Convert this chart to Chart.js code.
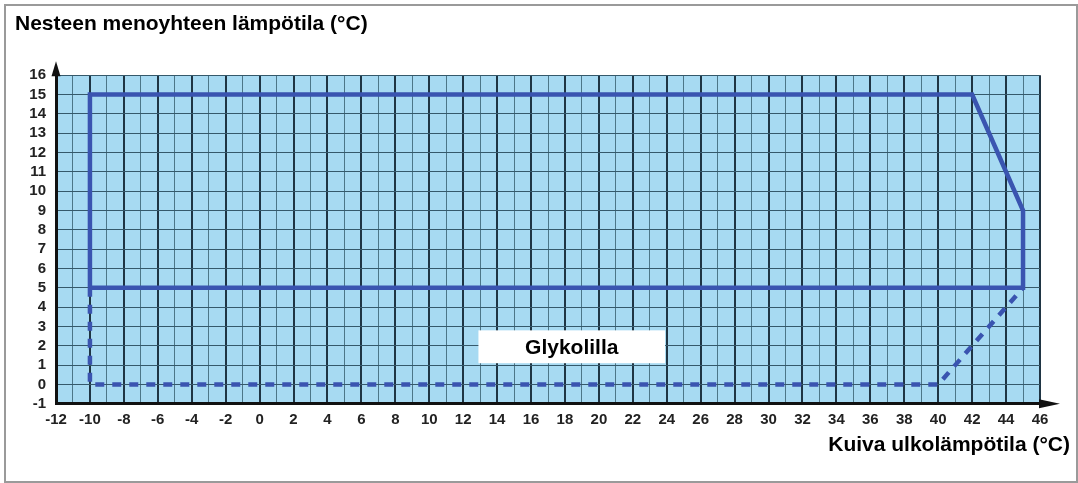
<!DOCTYPE html>
<html lang="fi">
<head>
<meta charset="utf-8">
<title>Käyttöalue</title>
<script src="https://cdn.jsdelivr.net/npm/chart.js@4/dist/chart.umd.min.js"></script>
<style>
  html, body { margin: 0; padding: 0; background: #fff; }
  canvas { display: block; }
</style>
</head>
<body>
<canvas id="rangeChart" width="1078" height="483"></canvas>
<script>
// 軸範囲・データ（°C）
const xRange = [-12, 46];
const yRange = [-1, 16];

// 実線：運転範囲の外枠
const envelopeX = [-10, -10, 42, 45, 45, -10];
const envelopeY = [5, 15, 15, 9, 5, 5];

// 破線：グリコール使用時の拡張範囲
const glycolX = [-10, -10, 40, 45];
const glycolY = [5, 0, 0, 5];

const titleY = 'Nesteen menoyhteen lämpötila (°C)';
const titleX = 'Kuiva ulkolämpötila (°C)';
const glycolLabel = 'Glykolilla';

const lineBlue = '#3a54b0';
const plotBlue = '#a7daf2';
const font = "'Liberation Sans', Arial, sans-serif";

const toPoints = (xs, ys) => xs.map((x, i) => ({ x, y: ys[i] }));

/* ==================================================
  背景・枠・ラベル・矢印の描画プラグイン
================================================== */
const decorPlugin = {
  id: 'decor',
  beforeDraw: (chart) => {
    const { ctx, chartArea: a } = chart;
    ctx.save();
    ctx.fillStyle = '#fff';
    ctx.fillRect(0, 0, chart.width, chart.height);
    // 外枠
    ctx.strokeStyle = '#9a9a9a';
    ctx.lineWidth = 2;
    ctx.strokeRect(5, 5, chart.width - 6, chart.height - 6);
    // プロット領域の水色
    ctx.fillStyle = plotBlue;
    ctx.fillRect(a.left, a.top, a.right - a.left, a.bottom - a.top);
    ctx.restore();
  },
  beforeDatasetsDraw: (chart, args, opts) => {
    const { ctx, scales: { x, y } } = chart;
    const [x0, x1, y0, y1] = opts.box;
    const l = x.getPixelForValue(x0), r = x.getPixelForValue(x1);
    const t = y.getPixelForValue(y1), b = y.getPixelForValue(y0);
    ctx.save();
    ctx.fillStyle = '#fff';
    ctx.fillRect(l, t, r - l, b - t);
    ctx.fillStyle = '#000';
    ctx.font = `bold 21px ${font}`;
    ctx.textAlign = 'center';
    ctx.textBaseline = 'middle';
    ctx.fillText(opts.text, (l + r) / 2, (t + b) / 2 + 1);
    ctx.restore();
  },
  afterDraw: (chart) => {
    const { ctx, chartArea: a } = chart;
    ctx.save();
    ctx.fillStyle = '#111';
    // Y軸の矢印
    ctx.beginPath();
    ctx.moveTo(a.left - 4.5, a.top + 1);
    ctx.lineTo(a.left + 4.5, a.top + 1);
    ctx.lineTo(a.left, a.top - 14);
    ctx.closePath();
    ctx.fill();
    // X軸の矢印
    ctx.beginPath();
    ctx.moveTo(a.right - 1, a.bottom - 4.5);
    ctx.lineTo(a.right - 1, a.bottom + 4.5);
    ctx.lineTo(a.right + 20, a.bottom);
    ctx.closePath();
    ctx.fill();
    ctx.restore();
  }
};

const ctx = document.getElementById('rangeChart').getContext('2d');
new Chart(ctx, {
  type: 'line',
  data: {
    datasets: [
      {
        data: toPoints(envelopeX, envelopeY),
        borderColor: lineBlue,
        borderWidth: 4.5,
        borderJoinStyle: 'miter',
        pointRadius: 0,
        tension: 0
      },
      {
        data: toPoints(glycolX, glycolY),
        borderColor: lineBlue,
        borderWidth: 4.5,
        borderDash: [9, 8],
        pointRadius: 0,
        tension: 0
      }
    ]
  },
  options: {
    responsive: false,
    devicePixelRatio: 1,
    animation: false,
    layout: { padding: { left: 15, right: 8, top: 0, bottom: 25 } },
    plugins: {
      legend: { display: false },
      tooltip: { enabled: false },
      title: {
        display: true,
        text: titleY,
        align: 'start',
        color: '#000',
        font: { family: font, size: 21, weight: 'bold' },
        padding: { top: 12, bottom: 38 }
      },
      subtitle: {
        display: true,
        position: 'bottom',
        text: titleX,
        align: 'end',
        color: '#000',
        font: { family: font, size: 21, weight: 'bold' },
        padding: { top: 0, bottom: 0 }
      },
      decor: { box: [12.9, 23.9, 1.1, 2.8], text: glycolLabel }
    },
    scales: {
      x: {
        type: 'linear',
        min: xRange[0],
        max: xRange[1],
        afterFit: (scale) => {
          // 右側に矢印とタイトル用の余白を確保（レイアウト余白込み）
          scale.height = 29;
          scale.paddingRight = 38;
        },
        ticks: {
          stepSize: 1,
          autoSkip: false,
          maxRotation: 0,
          padding: 7,
          color: '#222',
          font: { family: font, size: 15, weight: 'bold' },
          callback: (v) => (v % 2 === 0 ? v : '')
        },
        grid: {
          drawTicks: false,
          color: (c) => (c.tick && c.tick.value % 2 === 0 ? '#1f3544' : '#4c7688'),
          lineWidth: (c) => (c.tick && c.tick.value % 2 === 0 ? 2 : 1)
        },
        border: { color: '#111', width: 3 }
      },
      y: {
        type: 'linear',
        min: yRange[0],
        max: yRange[1],
        afterFit: (scale) => {
          scale.width = 41;
        },
        ticks: {
          stepSize: 1,
          autoSkip: false,
          padding: 10,
          color: '#222',
          font: { family: font, size: 15, weight: 'bold' }
        },
        grid: {
          drawTicks: false,
          color: '#35596b',
          lineWidth: 1
        },
        border: { color: '#111', width: 3 }
      }
    }
  },
  plugins: [decorPlugin]
});
</script>
</body>
</html>
